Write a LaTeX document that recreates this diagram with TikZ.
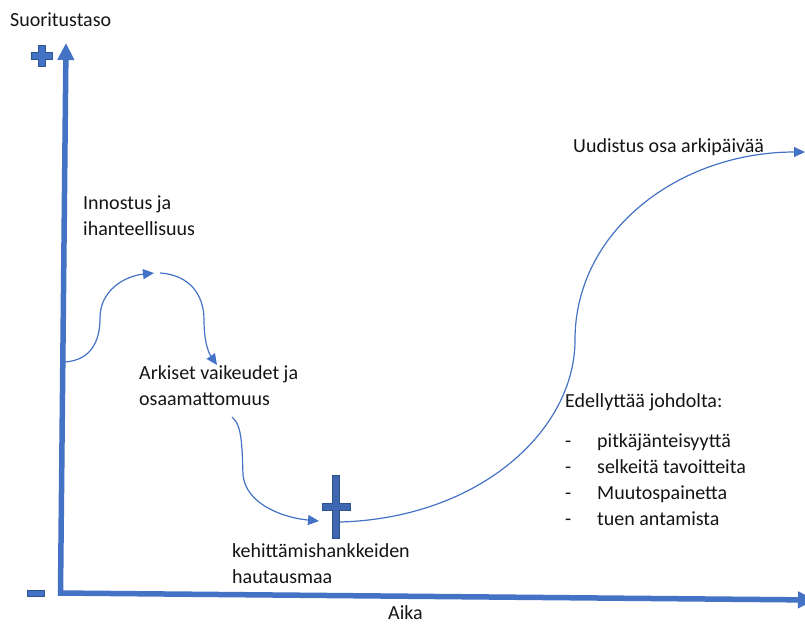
\documentclass[tikz,border=0pt]{standalone}
\usepackage{fontspec}
\setmainfont{Carlito}
\usetikzlibrary{arrows.meta}
\definecolor{axisblue}{HTML}{4472C4}
\definecolor{edgeblue}{HTML}{2F528F}
\definecolor{crossblue}{HTML}{3E67B1}
\begin{document}
\begin{tikzpicture}[x=1pt,y=-1pt,
  lbl/.style={anchor=base west, inner sep=0pt, font=\fontsize{20}{26}\selectfont, text=black!92},
  axisline/.style={draw=axisblue, line width=5.5pt, -{Triangle[length=17pt,width=16pt]}},
  flow/.style={draw=axisblue, line width=1.2pt, -{Triangle[length=11pt,width=10pt]}},
  signshape/.style={fill=axisblue, draw=edgeblue, line width=0.8pt, line join=round},
  crossshape/.style={fill=crossblue, draw=edgeblue, line width=0.8pt}]
\useasboundingbox (0,0) rectangle (805,625);

% axes (the time axis runs past the right edge of the page)
\coordinate (origin) at (60.5,593);
\coordinate (ytip) at (66,43);
\coordinate (xtip) at (815,600);
\draw[axisline] (origin) -- (ytip);
\draw[axisline] ([xshift=-2.7pt]origin) -- (xtip);

% plus and minus marks
\draw[signshape] (38,45.5) -- (45,45.5) -- (45,52.5) -- (52,52.5) -- (52,59.5) -- (45,59.5)
  -- (45,66.5) -- (38,66.5) -- (38,59.5) -- (31,59.5) -- (31,52.5) -- (38,52.5) -- cycle;
\draw[signshape] (27,590) rectangle (44,596);

% grave cross
\draw[crossshape] (332.5,475) -- (339.5,475) -- (339.5,503) -- (350,503) -- (350,510)
  -- (339.5,510) -- (339.5,538) -- (332.5,538) -- (332.5,510) -- (322,510) -- (322,503)
  -- (332.5,503) -- cycle;

% labels
\node[lbl] (ylabel) at (10,26) {Suoritustaso};
\node[lbl] (xlabel) at (388,619) {Aika};
\node[lbl] (inno1) at (83,209) {Innostus ja};
\node[lbl] (inno2) at (83,235) {ihanteellisuus};
\node[lbl] (ark1) at (139,379) {Arkiset vaikeudet ja};
\node[lbl] (ark2) at (139,405) {osaamattomuus};
\node[lbl] (hau1) at (232,557) {kehittämishankkeiden};
\node[lbl] (hau2) at (232,583) {hautausmaa};
\node[lbl] (uud) at (573,152) {Uudistus osa arkipäivää};
\node[lbl] (ede) at (565,407) {Edellyttää johdolta:};
\foreach \txt [count=\i] in {pitkäjänteisyyttä, selkeitä tavoitteita, Muutospainetta, tuen antamista} {
  \node[lbl] (dash\i) at (565,{447+(\i-1)*26}) {-};
  \node[lbl] (item\i) at (597,{447+(\i-1)*26}) {\txt};
}

% path of the development curve
\coordinate (p0) at (65,362);
\coordinate (p1) at (100,318);
\coordinate (p2) at (154,273);
\coordinate (q0) at (160,273);
\coordinate (q1) at (204,320);
\coordinate (q2) at (217,365);
\coordinate (r0) at (232,417);
\coordinate (r1) at (243,475);
\coordinate (r2) at (319,521);
\coordinate (s0) at (340,522);
\coordinate (s1) at (575,340);
\coordinate (s2) at (805,152);

\draw[flow] (p0) .. controls (92,360) and (100,340) .. (p1)
  .. controls (100,290) and (125,276) .. (p2);
\draw[flow] (q0) .. controls (190,275) and (204,295) .. (q1)
  .. controls (204,340) and (208,352) .. (q2);
\draw[flow] (r0) .. controls (242,425) and (242,445) .. (r1)
  .. controls (246,505) and (285,518) .. (r2);
\draw[flow] (s0) .. controls (480,518) and (575,430) .. (s1)
  .. controls (575,230) and (680,152) .. (s2);
\end{tikzpicture}
\end{document}
